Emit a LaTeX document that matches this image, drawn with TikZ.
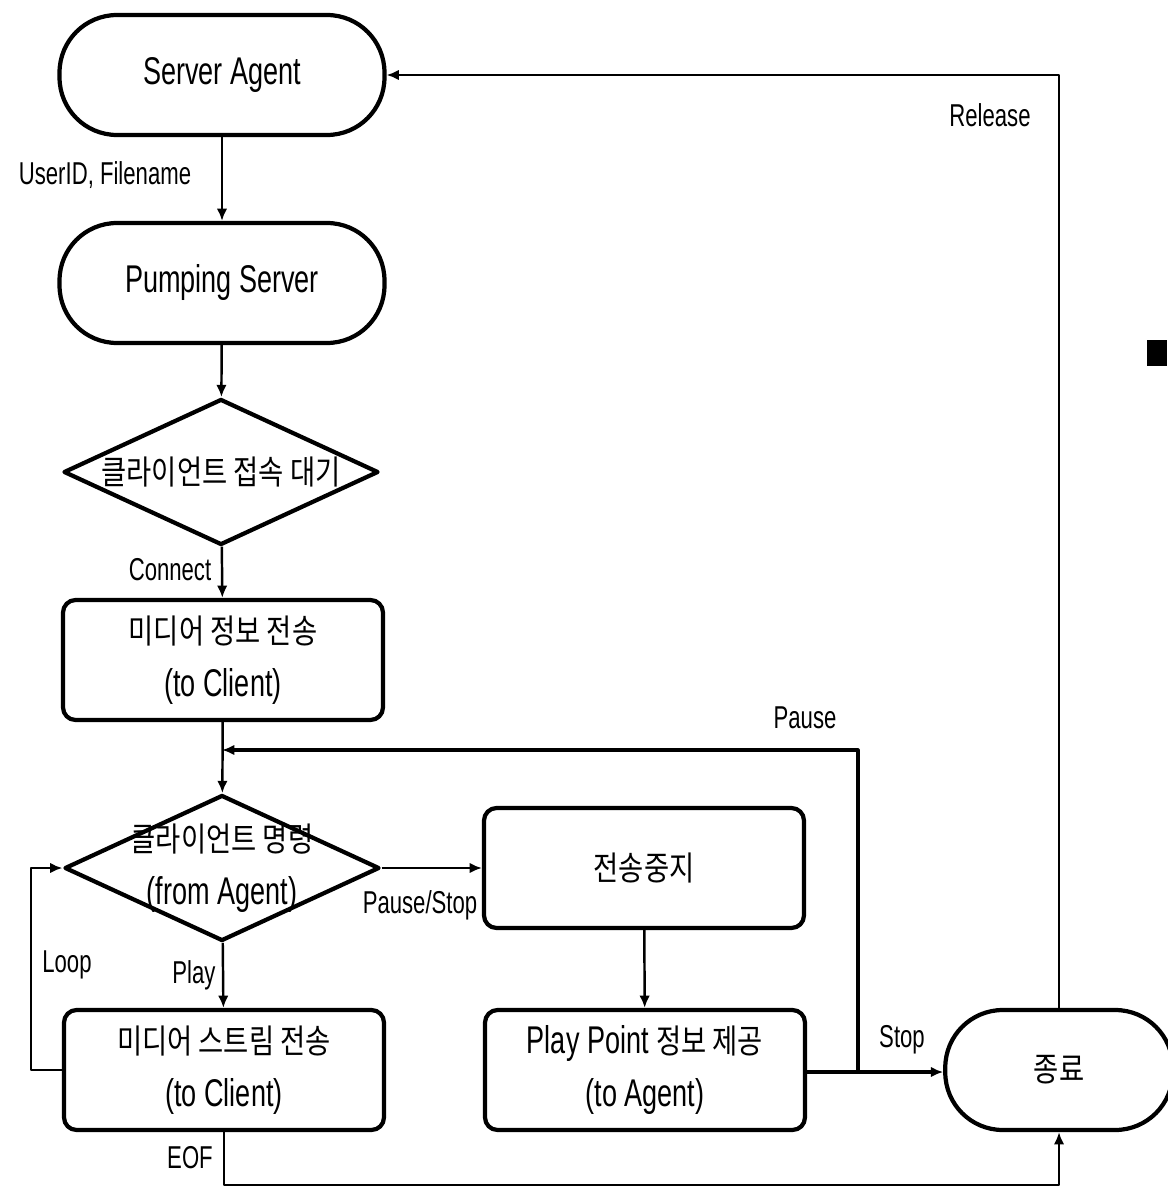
\documentclass[tikz,border=0pt]{standalone}
\usepackage{fontspec}
\setmainfont{Liberation Sans}[FakeStretch=0.7]
\newfontfamily\kr{Noto Sans CJK KR}[FakeStretch=0.82]
\newcommand{\kor}[1]{{\kr\fontsize{19}{30}\selectfont #1}}
\usetikzlibrary{arrows.meta,shapes.geometric}
\begin{document}
\begin{tikzpicture}[x=0.02cm, y=-0.02cm, line join=round,
    stadium/.style={draw, line width=2.4pt, rounded corners=1.15cm, minimum width=6.5cm, minimum height=2.4cm, align=center, font=\fontsize{22}{30}\selectfont},
    procbox/.style={draw, line width=2.4pt, rounded corners=0.25cm, minimum width=6.4cm, minimum height=2.4cm, align=center, font=\fontsize{22}{30}\selectfont},
    decbox/.style={draw, diamond, line width=2.4pt, minimum width=6.3cm, minimum height=2.92cm, inner sep=0pt},
    flow/.style={line width=1.4pt, -{Latex[length=7pt,width=6pt]}},
    plain/.style={line width=2.4pt},
    lbl/.style={font=\fontsize{18}{20}\selectfont, inner sep=0pt}]
\useasboundingbox (0,0) rectangle (1167,1189);
% 노드
\node[stadium] (agent) at (222,75)  {Server Agent};
\node[stadium] (pump)  at (222,283) {Pumping Server};
\node[decbox]  (wait)  at (221,472) {};
\node[align=center] (waittxt) at (wait) {\kor{클라이언트 접속 대기}};
\node[procbox] (info)  at (223,660) {\kor{미디어 정보 전송}\\(to Client)};
\node[decbox]  (cmd)   at (222,868) {};
\node[align=center, font=\fontsize{22}{30}\selectfont] (cmdtxt) at (cmd) {\kor{클라이언트 명령}\\(from Agent)};
\node[procbox] (halt)  at (644,868) {\kor{전송중지}};
\node[procbox] (stream) at (224,1070) {\kor{미디어 스트림 전송}\\(to Client)};
\node[procbox] (point) at (645,1070) {Play Point \kor{정보 제공}\\(to Agent)};
\node[stadium, minimum width=4.55cm] (fin) at (1059,1070) {\kor{종료}};
% 보조점
\coordinate (pin) at (222,750);
\coordinate (split) at (858,1072);
% 연결선
\draw[flow] (agent) -- (pump);
\draw[flow] (pump) -- (wait);
\draw[flow] (wait) -- (info);
\draw[flow] (info) -- (cmd);
\draw[flow] (cmd) -- (halt);
\draw[flow] (cmd) -- (stream);
\draw[flow] (halt) -- (point);
\draw[plain] (point.east |- split) -- (split);
\draw[flow, line width=2pt] (split) -- (fin.west |- split);
\draw[flow, line width=1.8pt] (split) |- (pin);
\draw[flow] (stream.west) -- ++(-31,0) |- (cmd.west);
\draw[flow] (stream.south) -- ++(0,53) -| (fin.south);
\draw[flow] (fin.north) |- (agent.east);
% 라벨
\node[lbl] (l1) at (105,175) {UserID, Filename};
\node[lbl] (l2) at (170,570) {Connect};
\node[lbl] (l3) at (420,905) {Pause/Stop};
\node[lbl] (l4) at (194,975) {Play};
\node[lbl] (l5) at (67,965)  {Loop};
\node[lbl] (l6) at (190,1158) {EOF};
\node[lbl] (l7) at (805,718) {Pause};
\node[lbl] (l8) at (902,1040) {Stop};
\node[lbl] (l9) at (990,115) {Release};
% 오른쪽 검은 사각형
\fill (1147,340) rectangle (1167,366);
\end{tikzpicture}
\end{document}
